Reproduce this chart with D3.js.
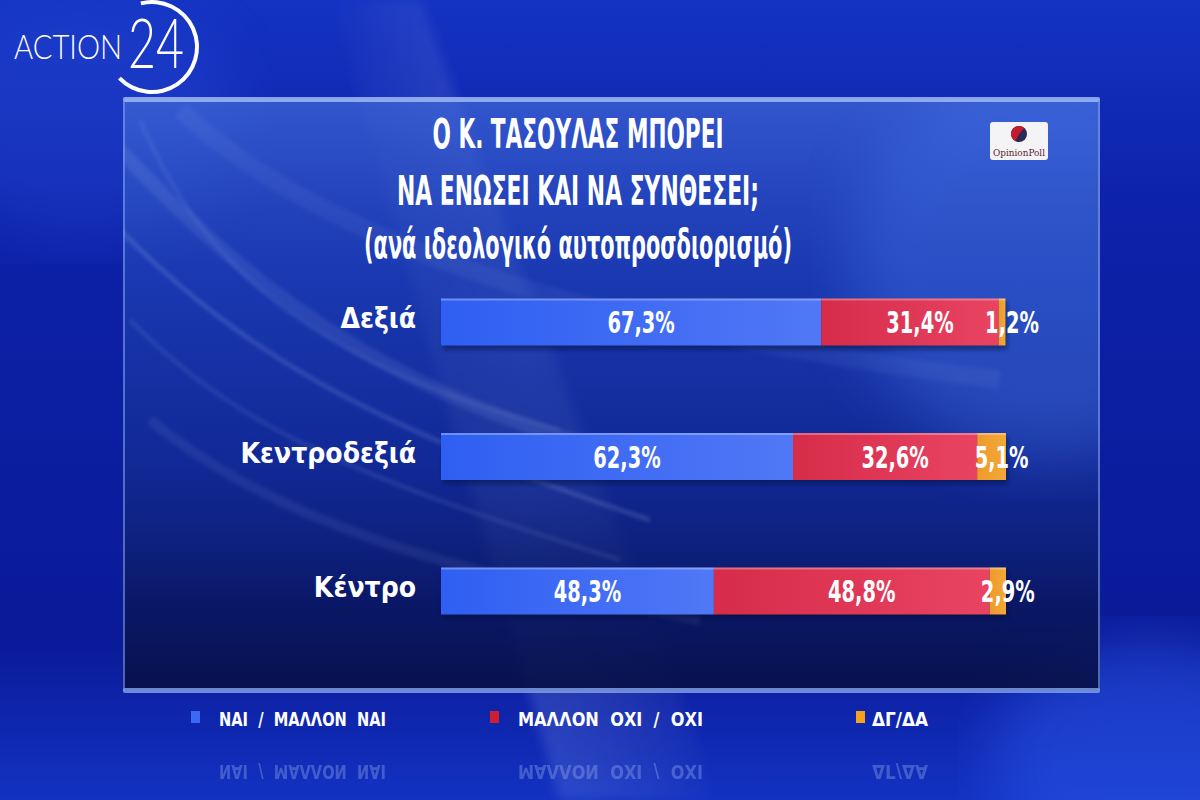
<!DOCTYPE html>
<html><head><meta charset="utf-8">
<script src="https://cdn.jsdelivr.net/npm/d3@7"></script>
<style>html,body{margin:0;padding:0;background:#0b1a9c;overflow:hidden}</style>
</head><body><svg id="c" width="1200" height="800"></svg>
<script>
// ---- data ----
const categories = ["Δεξιά", "Κεντροδεξιά", "Κέντρο"];
const seriesNames = ["ΝΑΙ  /  ΜΑΛΛΟΝ  ΝΑΙ", "ΜΑΛΛΟΝ  ΟΧΙ  /  ΟΧΙ", "ΔΓ/ΔΑ"];
const yesValues = [67.3, 62.3, 48.3];
const noValues = [31.4, 32.6, 48.8];
const dkValues = [1.2, 5.1, 2.9];
const titleLines = ["Ο Κ. ΤΑΣΟΥΛΑΣ ΜΠΟΡΕΙ", "ΝΑ ΕΝΩΣΕΙ ΚΑΙ ΝΑ ΣΥΝΘΕΣΕΙ;", "(ανά ιδεολογικό αυτοπροσδιορισμό)"];

const keys = ["yes", "no", "dk"];
const rows = categories.map((c, i) => ({cat: c, yes: yesValues[i], no: noValues[i], dk: dkValues[i]}));
const stacked = d3.stack().keys(keys)(rows);
const fmt = v => d3.format(".1f")(v).replace(".", ",") + "%";

const svg = d3.select("#c");
const defs = svg.append("defs");
const FONT = "'DejaVu Sans Condensed','DejaVu Sans',sans-serif";

function lin(id, x1, y1, x2, y2, stops) {
  const g = defs.append("linearGradient").attr("id", id)
    .attr("x1", x1).attr("y1", y1).attr("x2", x2).attr("y2", y2);
  stops.forEach(s => g.append("stop").attr("offset", s[0]).attr("stop-color", s[1]).attr("stop-opacity", s[2] == null ? 1 : s[2]));
}
lin("bg", 0, 0, 0, 1, [[0, "#1433c2"], [0.25, "#0d22aa"], [0.8, "#0a1a98"], [1, "#1332c2"]]);
lin("panel", 0, 0, 0, 1, [[0, "#4169d8", 0.7], [0.3, "#2248b8", 0.6], [0.62, "#15308f", 0.6], [0.85, "#0a175e", 0.85], [1, "#071046", 0.92]]);
lin("gBlue", 0, 0, 1, 0, [[0, "#2f5ff2"], [1, "#5078f6"]]);
lin("gRed", 0, 0, 1, 0, [[0, "#d62c4a"], [1, "#e84462"]]);
lin("gOr", 0, 0, 1, 0, [[0, "#ee9a2c"], [1, "#f2a838"]]);
lin("beam", 0, 0, 1, 0, [[0, "#fff", 0], [0.5, "#b0c8ff", 0.2], [1, "#fff", 0]]);
defs.append("filter").attr("id", "blur").append("feGaussianBlur").attr("stdDeviation", 6);
defs.append("filter").attr("id", "blur2").append("feGaussianBlur").attr("stdDeviation", 2);
defs.append("filter").attr("id", "blur20").append("feGaussianBlur").attr("stdDeviation", 30);

// background
svg.append("rect").attr("width", 1200).attr("height", 800).attr("fill", "url(#bg)");
svg.append("path").attr("d", "M330,0 L420,0 L720,800 L560,800 Z").attr("fill", "url(#beam)").attr("filter", "url(#blur)").attr("opacity", 0.9);
svg.append("ellipse").attr("cx", 1150).attr("cy", 760).attr("rx", 160).attr("ry", 120).attr("fill", "#2e5cf0").attr("opacity", 0.45).attr("filter", "url(#blur20)");
svg.append("ellipse").attr("cx", 80).attr("cy", 120).attr("rx", 160).attr("ry", 120).attr("fill", "#2f55e0").attr("opacity", 0.3).attr("filter", "url(#blur20)");

// panel
const P = {x: 123, y: 99, w: 977, h: 592};
defs.append("clipPath").attr("id", "pclip").append("rect").attr("x", P.x).attr("y", P.y).attr("width", P.w).attr("height", P.h);
svg.append("rect").attr("x", P.x).attr("y", P.y).attr("width", P.w).attr("height", P.h).attr("fill", "url(#panel)");
const glow = svg.append("g").attr("clip-path", "url(#pclip)");
glow.append("ellipse").attr("cx", 1050).attr("cy", 260).attr("rx", 200).attr("ry", 200).attr("fill", "#4a78ea").attr("opacity", 0.35).attr("filter", "url(#blur20)");
[
  ["M120,150 C260,300 420,420 700,470", 14, 0.10],
  ["M120,230 C250,360 380,430 650,520", 3, 0.25],
  ["M130,320 C230,420 330,470 620,560", 2, 0.22],
  ["M140,120 C200,260 300,360 560,430", 2, 0.18],
  ["M150,420 C250,500 380,560 700,620", 10, 0.08],
  ["M180,110 C330,250 600,330 1000,380", 18, 0.06]
].forEach(s => glow.append("path").attr("d", s[0]).attr("fill", "none")
  .attr("stroke", "#c8dcff").attr("stroke-width", s[1]).attr("opacity", s[2]).attr("filter", "url(#blur2)"));
// panel edges
svg.append("rect").attr("x", P.x).attr("y", P.y - 2).attr("width", P.w).attr("height", 5).attr("rx", 2).attr("fill", "#9db8f2").attr("opacity", 0.85);
svg.append("rect").attr("x", P.x).attr("y", P.y + P.h - 3).attr("width", P.w).attr("height", 5).attr("rx", 2).attr("fill", "#7e9ee8").attr("opacity", 0.85);
svg.append("rect").attr("x", P.x).attr("y", P.y).attr("width", 2).attr("height", P.h).attr("fill", "#7e9ee8").attr("opacity", 0.6);
svg.append("rect").attr("x", P.x + P.w - 2).attr("y", P.y).attr("width", 2).attr("height", P.h).attr("fill", "#7e9ee8").attr("opacity", 0.6);

// logo ACTION 24
const logo = svg.append("g");
logo.append("text").attr("x", 14).attr("y", 59).text("ACTION")
  .attr("font-family", "'Lato','DejaVu Sans',sans-serif").attr("font-weight", 300)
  .attr("font-size", 34).attr("fill", "#fff").attr("textLength", 108).attr("lengthAdjust", "spacingAndGlyphs");
logo.append("text").attr("x", 128).attr("y", 68).text("24")
  .attr("font-family", "'Lato','DejaVu Sans',sans-serif").attr("font-weight", 300)
  .attr("font-size", 68).attr("fill", "#fff").attr("textLength", 56).attr("lengthAdjust", "spacingAndGlyphs");
logo.append("path").attr("d", d3.arc()({innerRadius: 43, outerRadius: 47, startAngle: -0.25, endAngle: 3.95}))
  .attr("transform", "translate(152,47)").attr("fill", "#fff");

// OpinionPoll badge
const op = svg.append("g");
op.append("rect").attr("x", 990).attr("y", 122).attr("width", 58).attr("height", 38).attr("rx", 3).attr("fill", "#f4f4f6");
op.append("circle").attr("cx", 1019).attr("cy", 134).attr("r", 8).attr("fill", "#2a2a55");
op.append("path").attr("d", d3.arc()({innerRadius: 0, outerRadius: 8, startAngle: 3.6, endAngle: 7.0})).attr("transform", "translate(1019,134)").attr("fill", "#c81a2e");
op.append("text").attr("x", 1019).attr("y", 156).attr("text-anchor", "middle").text("OpinionPoll")
  .attr("font-family", "'DejaVu Serif',serif").attr("font-size", 9).attr("fill", "#5a2030")
  .attr("textLength", 52).attr("lengthAdjust", "spacingAndGlyphs");

// title
const titleW = [291, 362, 428];
const titleY = [148, 205, 258];
svg.append("g").selectAll("text").data(titleLines).join("text")
  .attr("x", 578).attr("y", (d, i) => titleY[i]).attr("text-anchor", "middle")
  .attr("font-family", FONT).attr("font-weight", "bold").attr("font-size", 40)
  .attr("fill", "#fff").attr("textLength", (d, i) => titleW[i]).attr("lengthAdjust", "spacingAndGlyphs")
  .text(d => d);

// scales
const x = d3.scaleLinear().domain([0, 100]).range([441, 1006]);
const y = d3.scalePoint().domain(categories).range([322, 591]);
const barH = 47;
const fills = {yes: "url(#gBlue)", no: "url(#gRed)", dk: "url(#gOr)"};

svg.append("g").selectAll("rect").data(rows).join("rect")
  .attr("x", x(0) + 2).attr("y", d => y(d.cat) - barH / 2 + 4)
  .attr("width", d => x(d.yes + d.no + d.dk) - x(0)).attr("height", barH)
  .attr("fill", "#020830").attr("opacity", 0.45).attr("filter", "url(#blur2)");

const bars = svg.append("g");
stacked.forEach(layer => {
  const g = bars.append("g");
  g.selectAll("rect.b").data(layer).join("rect").attr("class", "b")
    .attr("x", d => x(d[0])).attr("y", d => y(d.data.cat) - barH / 2)
    .attr("width", d => x(d[1]) - x(d[0])).attr("height", barH)
    .attr("fill", fills[layer.key]);
  g.selectAll("rect.h").data(layer).join("rect").attr("class", "h")
    .attr("x", d => x(d[0])).attr("y", d => y(d.data.cat) - barH / 2)
    .attr("width", d => x(d[1]) - x(d[0])).attr("height", 2)
    .attr("fill", "#fff").attr("opacity", 0.3);
});

const labels = svg.append("g");
stacked.forEach(layer => {
  labels.selectAll(null).data(layer).join("g")
    .attr("transform", d => `translate(${(x(d[0]) + x(d[1])) / 2 + 10},${y(d.data.cat) + 11}) scale(0.72,1)`)
    .append("text").attr("text-anchor", "middle")
    .attr("font-family", FONT).attr("font-weight", "bold").attr("font-size", 30)
    .attr("fill", "#fff").text(d => fmt(d.data[layer.key]));
});

svg.append("g").selectAll("text").data(categories).join("text")
  .attr("x", 416).attr("y", d => y(d) + 6).attr("text-anchor", "end")
  .attr("font-family", FONT).attr("font-weight", "bold").attr("font-size", 28)
  .attr("fill", "#fff").text(d => d);

// legend
const legColors = ["#3a6af5", "#d01f2c", "#f5a21c"];
const legX = [191, 490, 856];
const legW = [167, 185, 56];
const leg = svg.append("g").selectAll("g").data(seriesNames).join("g")
  .attr("transform", (d, i) => `translate(${legX[i]},0)`);
leg.append("rect").attr("x", 0).attr("y", 711).attr("width", 9).attr("height", 12).attr("fill", (d, i) => legColors[i]);
leg.append("text").attr("x", (d, i) => i === 2 ? 16 : 28).attr("y", 726)
  .attr("font-family", FONT).attr("font-weight", "bold").attr("font-size", 19)
  .attr("fill", "#fff").style("white-space", "pre")
  .attr("textLength", (d, i) => legW[i]).attr("lengthAdjust", "spacingAndGlyphs").text(d => d);
leg.append("text").attr("x", (d, i) => i === 2 ? 16 : 28).attr("y", -765)
  .attr("transform", "scale(1,-1)")
  .attr("font-family", FONT).attr("font-weight", "bold").attr("font-size", 19)
  .attr("fill", "#9fb4f0").attr("opacity", 0.35).style("white-space", "pre")
  .attr("textLength", (d, i) => legW[i]).attr("lengthAdjust", "spacingAndGlyphs").text(d => d);
</script></body></html>
